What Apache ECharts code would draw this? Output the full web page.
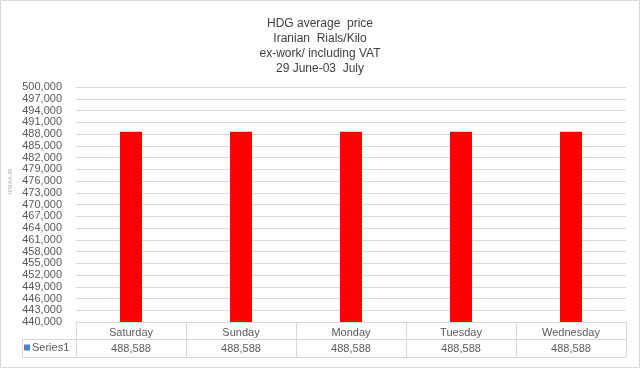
<!DOCTYPE html>
<html><head><meta charset="utf-8">
<script src="https://cdn.jsdelivr.net/npm/echarts@6/dist/echarts.min.js"></script>
<style>html,body{margin:0;padding:0;background:#fff}#c{width:640px;height:368px}</style>
</head><body><div id="c"></div>
<script>
const titleLines = ['HDG average  price', 'Iranian  Rials/Kilo', 'ex-work/ including VAT', '29 June-03  July'];
const categories = ['Saturday', 'Sunday', 'Monday', 'Tuesday', 'Wednesday'];
const seriesName = 'Series1';
const values = [488588, 488588, 488588, 488588, 488588];
const yMin = 440000, yMax = 500000, yStep = 3000;

const fmt = v => v.toLocaleString('en-US');
const chart = echarts.init(document.getElementById('c'));
const lineColor = '#d9d9d9';
const txt = '#595959';
const font = 'Liberation Sans';
chart.setOption({
  animation: false,
  backgroundColor: '#fff',
  title: {
    text: titleLines.join('\n'), left: 'center', top: 11,
    textStyle: { fontFamily: 'Liberation Sans Narrow, Liberation Sans', fontSize: 12, fontWeight: 'normal', color: '#404040', lineHeight: 15 }
  },
  legend: {
    data: [seriesName], left: 24, top: 342, padding: 0, icon: 'rect', itemWidth: 6, itemHeight: 6,
    textStyle: { fontFamily: font, fontSize: 11, color: txt, padding: [0, 0, 0, -3] },
    itemStyle: { color: '#4f81bd' }
  },
  grid: { left: 76, right: 14, top: 87, bottom: 46 },
  xAxis: [{
    type: 'category', data: categories, position: 'bottom',
    axisLine: { show: true, lineStyle: { color: lineColor } },
    axisTick: { show: true, length: 35, interval: 0, lineStyle: { color: lineColor } },
    axisLabel: { margin: 5, fontFamily: font, fontSize: 11, color: txt }
  }, {
    type: 'category', data: values.map(fmt), position: 'bottom', offset: 17,
    axisLine: { show: false }, axisTick: { show: false },
    axisLabel: { margin: 4, fontFamily: font, fontSize: 11, color: txt }
  }],
  yAxis: {
    type: 'value', min: yMin, max: yMax, interval: yStep,
    axisLine: { show: false }, axisTick: { show: false },
    splitLine: { lineStyle: { color: lineColor } },
    axisLabel: { formatter: fmt, fontFamily: font, fontSize: 11, color: txt, margin: 14 }
  },
  series: [{
    name: seriesName, type: 'bar', xAxisIndex: 0, barWidth: 22,
    itemStyle: { color: '#4f81bd' },
    data: values.map(v => ({ value: v, itemStyle: { color: '#ff0000' } }))
  }],
  graphic: [
    { type: 'rect', shape: { x: 0.5, y: 0.5, width: 639, height: 367 }, style: { fill: 'none', stroke: lineColor } },
    { type: 'line', shape: { x1: 22, y1: 339.5, x2: 626, y2: 339.5 }, style: { stroke: lineColor } },
    { type: 'line', shape: { x1: 22, y1: 357.5, x2: 626, y2: 357.5 }, style: { stroke: lineColor } },
    { type: 'line', shape: { x1: 22.5, y1: 339.5, x2: 22.5, y2: 357.5 }, style: { stroke: lineColor } },
    { type: 'text', x: 7, y: 194, rotation: Math.PI / 2, style: { text: 'IFNAA.IR', fontSize: 6, fontFamily: font, fill: '#a6a6a6' } }
  ]
});
</script></body></html>
